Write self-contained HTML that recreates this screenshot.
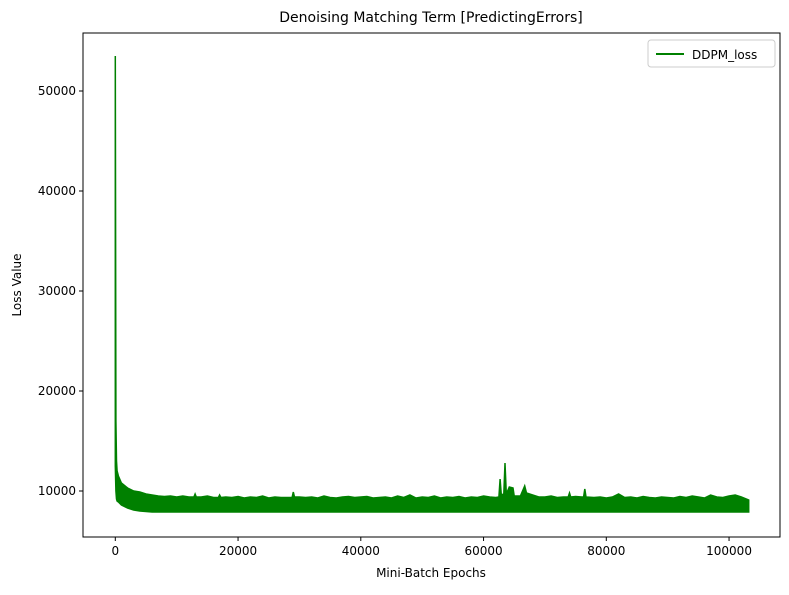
<!DOCTYPE html>
<html><head><meta charset="utf-8"><style>
body{margin:0;background:#fff;font-family:"Liberation Sans","DejaVu Sans",sans-serif;}
svg text{font-family:"DejaVu Sans","Liberation Sans",sans-serif;fill:#000;}
</style></head><body>
<svg id="chart" width="789" height="590">
<text x="431" y="22" text-anchor="middle" font-size="14">Denoising Matching Term [PredictingErrors]</text>
<g id="plot"></g>
<rect x="83" y="33" width="697" height="504" fill="none" stroke="#000" stroke-width="1"/>
<text x="431" y="577" text-anchor="middle" font-size="12">Mini-Batch Epochs</text>
<text transform="translate(21,285) rotate(-90)" text-anchor="middle" font-size="12">Loss Value</text>
<g>
<rect x="648" y="40" width="127" height="27" rx="3" fill="#fff" stroke="#ccc"/>
<line x1="656" y1="54" x2="684" y2="54" stroke="#008000" stroke-width="2"/>
<text x="692" y="59" font-size="12">DDPM_loss</text>
</g>
</svg>
<script>
const xTicks=[0,20000,40000,60000,80000,100000];
const yTicks=[10000,20000,30000,40000,50000];
const epochs=[0,100,200,300,500,1000,2000,3000,4000,5000,6000,7000,8000,9000,10000,
11000,12000,12800,13000,13200,14000,15000,16000,16800,17000,17200,18000,19000,20000,
21000,22000,23000,24000,25000,26000,27000,28000,28800,29000,29200,30000,
31000,32000,33000,34000,35000,36000,37000,38000,39000,40000,
41000,42000,43000,44000,45000,46000,47000,48000,49000,50000,
51000,52000,53000,54000,55000,56000,57000,58000,59000,60000,
61000,62000,62500,62700,62900,63300,63500,63700,64200,64800,65000,66000,66700,67000,68000,69000,70000,
71000,72000,73000,73800,74000,74200,75000,76000,76300,76500,76700,78000,79000,80000,
81000,82000,83000,84000,85000,86000,87000,88000,89000,90000,
91000,92000,93000,94000,95000,96000,97000,98000,99000,100000,
101000,102000,103200];
const upper=[53500,17000,13000,12000,11500,10800,10300,10000,9900,9700,9600,9500,9450,9500,9400,
9500,9400,9400,9700,9400,9400,9500,9350,9350,9600,9350,9400,9350,9450,
9300,9400,9350,9500,9300,9400,9350,9350,9350,9900,9400,9400,
9350,9400,9300,9500,9350,9300,9400,9450,9350,9400,
9450,9300,9350,9400,9300,9500,9350,9600,9300,9400,
9350,9500,9300,9400,9350,9450,9300,9400,9350,9500,
9400,9350,9400,11200,9600,9700,12800,9700,10400,10300,9500,9500,10500,9800,9600,9400,9400,
9500,9350,9400,9400,9800,9400,9450,9400,9400,10200,9400,9350,9400,9300,
9400,9700,9350,9400,9300,9450,9350,9300,9400,9350,
9300,9450,9350,9500,9400,9300,9600,9400,9350,9500,
9600,9400,9100];
const lower=[12500,10000,9200,9000,8900,8600,8300,8100,8000,7950,7900,7900,7900,7900,7900,
7900,7900,7900,7900,7900,7900,7900,7900,7900,7900,7900,7900,7900,7900,
7900,7900,7900,7900,7900,7900,7900,7900,7900,7900,7900,7900,
7900,7900,7900,7900,7900,7900,7900,7900,7900,7900,
7900,7900,7900,7900,7900,7900,7900,7900,7900,7900,
7900,7900,7900,7900,7900,7900,7900,7900,7900,7900,
7900,7900,7900,7900,7900,7900,7900,7900,7900,7900,7900,7900,7900,7900,7900,7900,7900,
7900,7900,7900,7900,7900,7900,7900,7900,7900,7900,7900,7900,7900,7900,
7900,7900,7900,7900,7900,7900,7900,7900,7900,7900,
7900,7900,7900,7900,7900,7900,7900,7900,7900,7900,
7900,7900,7900];
const xs=v=>115.3+v*0.0061375;
const ys=v=>491-(v-10000)*0.01;
const NS='http://www.w3.org/2000/svg';
const svg=document.getElementById('chart');
const plot=document.getElementById('plot');
xTicks.forEach(t=>{
  const l=document.createElementNS(NS,'line');
  l.setAttribute('x1',xs(t));l.setAttribute('x2',xs(t));l.setAttribute('y1',537);l.setAttribute('y2',541);l.setAttribute('stroke','#000');
  
  
  svg.appendChild(l);
  const tx=document.createElementNS(NS,'text');
  tx.setAttribute('x',xs(t));tx.setAttribute('y',555);tx.setAttribute('text-anchor','middle');tx.setAttribute('font-size','12');
  tx.textContent=t;
  
  
  svg.appendChild(tx);
});
yTicks.forEach(t=>{
  const l=document.createElementNS(NS,'line');
  l.setAttribute('x1',79);l.setAttribute('x2',83);l.setAttribute('y1',ys(t));l.setAttribute('y2',ys(t));l.setAttribute('stroke','#000');
  
  
  svg.appendChild(l);
  const tx=document.createElementNS(NS,'text');
  tx.setAttribute('x',76);tx.setAttribute('y',ys(t)+4);tx.setAttribute('text-anchor','end');tx.setAttribute('font-size','12');
  tx.textContent=t;
  
  
  svg.appendChild(tx);
});
let pts=[];
for(let i=0;i<epochs.length;i++)pts.push(xs(epochs[i]).toFixed(1)+','+ys(upper[i]).toFixed(1));
for(let i=epochs.length-1;i>=0;i--)pts.push(xs(epochs[i]).toFixed(1)+','+ys(lower[i]).toFixed(1));
const poly=document.createElementNS(NS,'polygon');
poly.setAttribute('points',pts.join(' '));
poly.setAttribute('fill','#008000');poly.setAttribute('stroke','#008000');poly.setAttribute('stroke-width','1.5');poly.setAttribute('stroke-linejoin','miter');


plot.appendChild(poly);
</script>
</body></html>
